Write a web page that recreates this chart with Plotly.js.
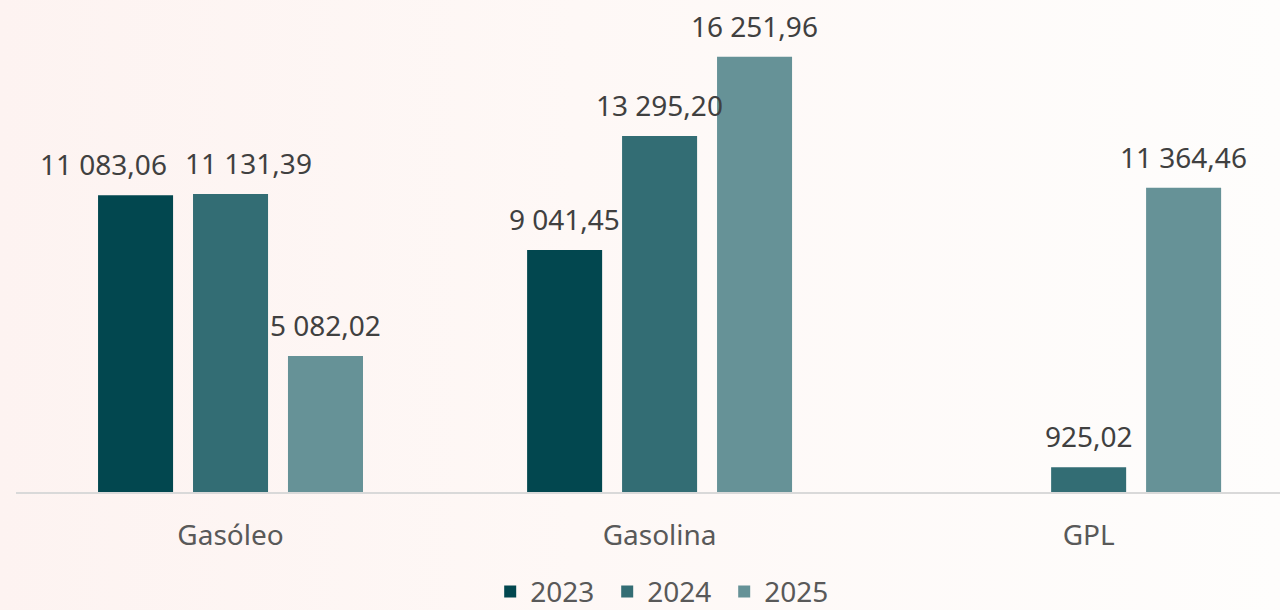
<!DOCTYPE html>
<html>
<head>
<meta charset="utf-8">
<script src="https://cdn.plot.ly/plotly-3.0.1.min.js"></script>
<style>
  html, body { margin: 0; padding: 0; }
  body { width: 1280px; height: 610px; background: linear-gradient(to right, #fdf3f1 0%, #fef8f6 45%, #fefdfc 100%); }
  #chart { width: 1280px; height: 610px; }
</style>
</head>
<body>
<div id="chart"></div>
<script>
const categories = ["Gasóleo", "Gasolina", "GPL"];
const years = ["2023", "2024", "2025"];
const values2023 = [11083.06, 9041.45, null];
const values2024 = [11131.39, 13295.20, 925.02];
const values2025 = [5082.02, 16251.96, 11364.46];
const colors = ["#02474f", "#336d74", "#669297"];

const series = [values2023, values2024, values2025];

function fmt(v) {
  const parts = v.toFixed(2).split(".");
  const intPart = parts[0].replace(/\B(?=(\d{3})+(?!\d))/g, " ");
  return intPart + "," + parts[1];
}

const traces = series.map((vals, j) => ({
  type: "bar",
  name: years[j],
  x: categories,
  y: vals,
  marker: { color: colors[j] },
  hoverinfo: "none"
}));

// label nudges (pixels) where the original moved labels apart to avoid overlap
const labelNudge = { "0-0": -32, "0-1": 18 };
const slot = 95;
const annotations = [];
series.forEach((vals, j) => {
  vals.forEach((v, i) => {
    if (v === null) return;
    annotations.push({
      x: categories[i], y: v, xref: "x", yref: "y",
      text: fmt(v), showarrow: false,
      xshift: (j - 1) * slot + (labelNudge[i + "-" + j] || 0),
      yanchor: "bottom", yshift: 10,
      font: { family: "Noto Sans", size: 28, color: "#404040" }
    });
  });
});

const layout = {
  width: 1280, height: 610,
  paper_bgcolor: "rgba(0,0,0,0)",
  plot_bgcolor: "rgba(0,0,0,0)",
  margin: { l: 16, r: 0, t: 10, b: 118, autoexpand: false },
  barmode: "group",
  bargap: 0.336,
  bargroupgap: 0.21,
  showlegend: true,
  legend: {
    orientation: "h", x: 0.514, xanchor: "center",
    yref: "container", y: 0.03, yanchor: "middle",
    font: { family: "Noto Sans", size: 28, color: "#595959" },
    itemwidth: 30, entrywidth: 72, entrywidthmode: "pixels",
    traceorder: "normal"
  },
  xaxis: {
    type: "category",
    range: [-0.5, 2.446],
    showline: true, linecolor: "#d9d9d9", linewidth: 2,
    ticks: "outside", ticklen: 17, tickcolor: "rgba(0,0,0,0)",
    tickfont: { family: "Noto Sans", size: 28, color: "#595959" },
    showgrid: false, zeroline: false, fixedrange: true
  },
  yaxis: {
    range: [0, 18000],
    visible: false, showgrid: false, zeroline: false, fixedrange: true
  },
  annotations: annotations
};

Plotly.newPlot("chart", traces, layout, { displayModeBar: false, staticPlot: true });
</script>
</body>
</html>
